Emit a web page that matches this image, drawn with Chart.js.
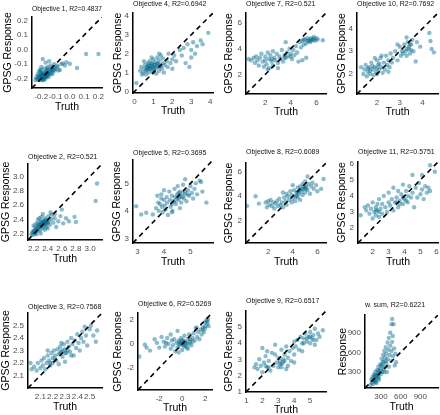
<!DOCTYPE html>
<html>
<head>
<meta charset="utf-8">
<script src="https://cdn.jsdelivr.net/npm/chart.js@4/dist/chart.umd.min.js"></script>
<style>
html, body { margin: 0; padding: 0; background: #fff; overflow: hidden; width: 440px; height: 415px; }
#wrap { position: relative; width: 440px; height: 415px; overflow: hidden; }
canvas { position: absolute; }
</style>
</head>
<body>
<div id="wrap"></div>
<script>
// GPSG response vs truth, one small scatter per objective

// [truth, response] pairs
const obj1Pts = [[-0.24,-0.21],[-0.235,-0.19],[-0.23,-0.2],[-0.225,-0.17],[-0.22,-0.21],[-0.22,-0.18],[-0.215,-0.15],[-0.21,-0.2],[-0.21,-0.19],[-0.205,-0.16],[-0.2,-0.21],[-0.2,-0.18],[-0.2,-0.14],[-0.195,-0.17],[-0.19,-0.2],[-0.19,-0.19],[-0.19,-0.16],[-0.19,-0.065],[-0.185,-0.18],[-0.18,-0.21],[-0.18,-0.17],[-0.18,-0.13],[-0.175,-0.19],[-0.17,-0.16],[-0.17,-0.2],[-0.17,-0.09],[-0.165,-0.18],[-0.16,-0.15],[-0.16,-0.17],[-0.155,-0.12],[-0.15,-0.19],[-0.15,-0.16],[-0.145,-0.08],[-0.14,-0.14],[-0.14,-0.17],[-0.135,-0.11],[-0.13,-0.15],[-0.13,-0.13],[-0.125,-0.17],[-0.12,-0.12],[-0.115,-0.14],[-0.11,-0.1],[-0.105,-0.145],[-0.1,-0.13],[-0.09,-0.11],[-0.085,-0.12],[-0.08,-0.145],[-0.07,-0.14],[-0.06,-0.1],[-0.05,-0.095],[-0.035,-0.11],[-0.025,-0.087],[0.0,-0.098],[0.05,-0.127],[0.114,-0.03],[0.2,-0.03],[-0.2,-0.12],[-0.16,-0.13],[-0.12,-0.16],[-0.21,-0.14],
    [-0.21,-0.185],[-0.2,-0.195],[-0.195,-0.185],[-0.19,-0.175],[-0.185,-0.2],[-0.18,-0.19],[-0.175,-0.175],[-0.17,-0.185],[-0.165,-0.165],[-0.16,-0.185],[-0.155,-0.175],[-0.15,-0.17],[-0.145,-0.16],[-0.2,-0.165],[-0.19,-0.21],[-0.17,-0.15],[-0.16,-0.14],[-0.13,-0.14],[-0.11,-0.13],[-0.215,-0.2]];
const obj4Pts = [[0.1,0.45],[0.3,1.1],[0.35,1.3],[0.4,0.9],[0.45,1.0],[0.5,1.2],[0.55,1.4],[0.6,1.1],[0.6,0.9],[0.65,1.3],[0.7,1.5],[0.7,1.2],[0.75,1.0],[0.8,1.35],[0.8,1.6],[0.85,1.2],[0.9,1.1],[0.9,1.45],[0.95,1.3],[1.0,1.7],[1.0,1.0],[1.05,1.4],[1.1,1.25],[1.1,1.55],[1.15,0.95],[1.2,1.8],[1.2,1.3],[1.25,1.5],[1.3,1.1],[1.3,1.65],[1.35,1.4],[1.4,1.9],[1.45,1.2],[1.5,1.5],[1.5,1.75],[1.55,1.0],[1.6,1.4],[1.7,1.6],[1.75,1.3],[1.8,2.0],[1.9,1.5],[2.0,1.7],[2.0,1.2],[2.1,1.9],[2.2,1.6],[2.4,2.2],[2.5,1.9],[2.6,2.3],[2.7,1.5],[2.8,2.5],[2.9,1.3],[3.0,2.2],[3.0,1.8],[3.1,2.6],[3.2,2.0],[3.3,2.4],[3.5,2.7],[3.6,2.5],[3.9,3.1],[0.5,1.6],[0.9,1.8],[1.3,2.0],
    [0.7,1.3],[0.8,1.2],[0.9,1.35],[1.0,1.25],[1.1,1.4],[1.2,1.45],[1.3,1.3],[0.75,1.4],[0.95,1.5],[1.05,1.15],[1.4,1.35],[0.65,1.15]];
const obj7Pts = [[0.7,3.2],[0.9,3.1],[1.1,3.3],[1.2,2.9],[1.3,3.4],[1.4,3.1],[1.5,2.7],[1.6,3.3],[1.7,3.6],[1.8,3.0],[1.9,2.6],[2.0,3.4],[2.0,3.1],[2.1,2.8],[2.2,3.7],[2.3,3.2],[2.3,2.5],[2.4,3.5],[2.5,3.0],[2.6,3.8],[2.6,2.7],[2.7,3.3],[2.8,3.1],[2.9,3.6],[3.0,2.9],[3.1,3.4],[3.2,3.2],[3.3,3.9],[3.4,3.0],[3.5,3.5],[3.6,4.5],[3.6,3.3],[3.7,3.7],[3.8,3.4],[3.9,4.0],[4.0,3.6],[4.1,3.2],[4.2,3.9],[4.3,3.5],[4.4,4.2],[4.5,3.7],[4.6,3.0],[4.7,4.5],[4.8,4.1],[4.9,4.6],[5.0,4.3],[5.1,4.7],[5.2,4.4],[5.3,4.8],[5.4,4.6],[5.5,4.5],[5.6,4.8],[5.7,4.7],[5.8,4.9],[5.9,4.6],[6.0,4.8],[6.1,4.7],[6.5,4.65],[5.2,3.3],[4.9,3.1],[3.0,2.5],[2.2,2.4],
    [5.0,4.7],[5.3,4.6],[5.5,4.7],[5.6,4.6],[5.8,4.7],[4.0,3.4],[3.5,3.3],[2.5,3.2]];
const obj10Pts = [[1.3,2.3],[1.4,2.0],[1.45,2.2],[1.5,2.4],[1.55,1.9],[1.6,2.1],[1.65,2.3],[1.7,2.0],[1.75,2.5],[1.8,2.2],[1.85,1.95],[1.9,2.3],[1.95,2.1],[2.0,2.6],[2.0,2.0],[2.05,2.4],[2.1,2.2],[2.15,2.7],[2.2,2.3],[2.25,2.05],[2.3,2.5],[2.35,2.2],[2.4,2.8],[2.45,2.4],[2.5,2.6],[2.55,2.3],[2.6,2.9],[2.65,2.5],[2.7,2.7],[2.8,3.0],[2.9,2.6],[3.0,3.2],[3.05,2.8],[3.1,3.0],[3.15,2.9],[3.2,3.3],[3.25,3.0],[3.3,2.8],[3.35,3.4],[3.4,3.1],[3.45,2.9],[3.5,3.3],[3.55,3.5],[3.6,3.0],[3.7,2.55],[3.75,3.4],[3.9,3.2],[4.3,3.8],[4.35,3.45],[4.4,3.1],[4.5,2.95],[2.2,2.8],[1.9,2.7],[2.9,3.3],[3.3,3.6],[2.5,2.1],
    [1.6,2.25],[1.8,2.35],[2.0,2.25],[1.7,2.15],[2.1,2.45],[3.4,3.2],[3.5,3.05],[3.3,3.1],[3.45,3.3]];
const obj2Pts = [[2.17,2.2],[2.18,2.23],[2.19,2.19],[2.2,2.25],[2.21,2.22],[2.22,2.3],[2.22,2.21],[2.23,2.27],[2.24,2.35],[2.25,2.24],[2.25,2.3],[2.26,2.4],[2.27,2.28],[2.28,2.33],[2.29,2.25],[2.3,2.37],[2.3,2.3],[2.31,2.44],[2.32,2.34],[2.33,2.28],[2.34,2.38],[2.35,2.32],[2.36,2.42],[2.37,2.36],[2.38,2.3],[2.39,2.4],[2.4,2.35],[2.41,2.45],[2.42,2.38],[2.43,2.33],[2.45,2.41],[2.46,2.47],[2.48,2.36],[2.5,2.42],[2.52,2.3],[2.55,2.38],[2.58,2.45],[2.6,2.54],[2.62,2.35],[2.66,2.42],[2.7,2.38],[2.78,2.44],[2.8,2.37],[3.08,2.66],[3.1,2.9],[2.2,2.32],[2.24,2.2],[2.28,2.42],[2.33,2.48],[2.36,2.26],[2.44,2.5],[2.26,2.34],[2.3,2.21],[2.4,2.28],[2.5,2.48],
    [2.26,2.27],[2.28,2.3],[2.3,2.34],[2.32,2.31],[2.34,2.35],[2.35,2.37],[2.37,2.33],[2.38,2.36],[2.31,2.38],[2.29,2.32],[2.36,2.39],[2.33,2.36],[2.24,2.26],[2.21,2.24],[2.39,2.37]];
const obj5Pts = [[2.95,4.17],[3.14,3.87],[3.33,3.93],[3.58,3.87],[3.7,4.1],[3.75,4.55],[3.78,4.3],[3.8,4.0],[3.85,4.25],[3.9,4.6],[3.92,4.15],[3.95,3.95],[4.0,4.4],[4.02,4.2],[4.05,4.05],[4.1,4.5],[4.12,4.3],[4.15,3.85],[4.2,4.7],[4.22,4.4],[4.25,4.15],[4.3,4.55],[4.32,4.0],[4.35,4.35],[4.4,4.8],[4.42,4.5],[4.45,4.25],[4.5,4.6],[4.52,4.9],[4.55,4.4],[4.6,4.7],[4.62,4.5],[4.65,4.3],[4.7,4.65],[4.72,4.95],[4.75,4.45],[4.8,4.6],[4.85,4.35],[4.9,4.75],[4.95,4.55],[5.0,4.9],[5.05,4.65],[5.1,4.45],[5.15,4.8],[5.2,5.0],[5.25,4.6],[5.35,5.1],[5.4,5.05],[5.45,4.7],[5.6,4.3],[4.0,4.75],[4.3,3.95],[4.6,4.1],[3.9,4.45],[4.8,5.15],
    [4.5,4.45],[4.6,4.55],[4.7,4.5],[4.4,4.35],[4.8,4.7],[4.3,4.25],[4.9,4.6],[4.55,4.65]];
const obj8Pts = [[0.28,3.22],[0.98,4.0],[1.25,3.4],[1.8,3.5],[1.9,3.1],[2.0,3.6],[2.1,3.3],[2.2,3.7],[2.3,3.2],[2.4,3.5],[2.5,3.0],[2.6,3.4],[2.7,3.6],[2.8,3.2],[2.9,3.8],[3.0,3.3],[3.1,3.5],[3.2,3.1],[3.3,3.9],[3.4,3.6],[3.5,4.2],[3.5,3.3],[3.6,4.0],[3.7,3.7],[3.8,4.4],[3.9,3.5],[3.9,4.1],[4.0,3.8],[4.1,4.5],[4.2,4.0],[4.2,3.6],[4.3,4.3],[4.4,4.7],[4.4,3.9],[4.5,4.2],[4.6,4.8],[4.6,3.7],[4.7,4.4],[4.8,4.1],[4.8,5.0],[4.9,4.6],[5.0,4.3],[5.0,5.2],[5.1,4.8],[5.2,4.5],[5.3,5.0],[5.4,4.2],[5.5,4.8],[5.6,5.1],[5.7,4.6],[5.9,4.9],[6.0,4.4],[6.3,4.6],[6.5,5.4],[4.0,4.9],[3.2,4.3],[5.2,5.6],
    [4.6,4.5],[4.8,4.6],[4.9,4.8],[5.1,4.6],[4.4,4.3],[4.3,4.0],[5.0,4.7]];
const obj11Pts = [[1.25,2.8],[1.6,3.1],[1.7,3.4],[1.8,2.9],[1.9,3.2],[2.0,2.6],[2.0,3.6],[2.1,3.0],[2.2,3.3],[2.2,2.8],[2.3,3.1],[2.4,3.8],[2.4,2.7],[2.5,3.2],[2.6,3.5],[2.6,2.9],[2.7,4.0],[2.8,3.3],[2.9,3.0],[3.0,3.6],[3.0,4.2],[3.1,3.4],[3.2,3.8],[3.3,4.5],[3.3,3.1],[3.4,3.6],[3.5,3.9],[3.6,3.3],[3.6,4.3],[3.7,3.7],[3.8,4.1],[3.9,3.5],[3.9,4.7],[4.0,3.8],[4.1,4.3],[4.2,3.6],[4.2,4.0],[4.3,4.6],[4.4,3.9],[4.5,5.3],[4.5,4.2],[4.6,3.3],[4.7,4.5],[4.8,3.9],[4.9,4.8],[5.0,4.1],[5.1,5.3],[5.1,4.4],[5.2,3.8],[5.3,4.6],[5.4,4.2],[5.5,4.5],[5.6,4.3],[5.6,5.9],[5.9,5.5],[1.5,3.3],[2.3,3.5],
    [3.5,3.6],[3.7,3.5],[3.9,3.9],[4.1,3.7],[2.2,3.1],[2.4,3.0]];
const obj3Pts = [[2.02,2.2],[2.03,2.15],[2.05,2.17],[2.07,2.14],[2.08,2.2],[2.1,2.16],[2.11,2.22],[2.12,2.18],[2.13,2.24],[2.14,2.15],[2.15,2.2],[2.16,2.26],[2.17,2.22],[2.18,2.18],[2.19,2.28],[2.2,2.24],[2.2,2.2],[2.21,2.3],[2.22,2.26],[2.23,2.22],[2.24,2.31],[2.25,2.27],[2.25,2.19],[2.26,2.33],[2.27,2.29],[2.28,2.25],[2.29,2.35],[2.3,2.31],[2.3,2.21],[2.31,2.28],[2.32,2.37],[2.33,2.33],[2.34,2.29],[2.35,2.4],[2.36,2.35],[2.37,2.26],[2.38,2.38],[2.39,2.32],[2.4,2.43],[2.41,2.36],[2.42,2.3],[2.43,2.4],[2.44,2.45],[2.45,2.37],[2.46,2.49],[2.47,2.42],[2.48,2.34],[2.5,2.47],[2.51,2.5],[2.53,2.42],[2.56,2.46],[2.55,2.37],[2.16,2.3],[2.27,2.36],[2.35,2.26],
    [2.3,2.28],[2.32,2.3],[2.28,2.3],[2.26,2.28],[2.22,2.23],[2.18,2.2]];
const obj6Pts = [[-3.74,-1.05],[-3.25,-0.05],[-3.1,-0.3],[-2.8,-0.55],[-2.4,0.4],[-2.2,0.1],[-2.0,-0.3],[-1.8,0.6],[-1.6,0.2],[-1.5,-0.2],[-1.3,0.5],[-1.2,0.0],[-1.0,0.8],[-1.0,-0.4],[-0.9,0.3],[-0.8,-0.1],[-0.7,0.4],[-0.6,-0.6],[-0.5,0.1],[-0.4,1.1],[-0.4,-0.3],[-0.3,0.3],[-0.2,-0.1],[-0.1,0.5],[0.0,0.0],[0.0,-0.5],[0.1,0.3],[0.2,-0.2],[0.2,0.7],[0.3,0.1],[0.4,-0.3],[0.5,0.4],[0.6,0.0],[0.6,0.8],[0.7,0.2],[0.8,-0.1],[0.9,0.5],[1.0,0.9],[1.1,0.3],[1.2,1.3],[1.25,1.4],[1.3,0.6],[1.4,1.0],[1.5,0.4],[1.6,1.2],[1.7,0.8],[1.8,1.4],[1.9,1.0],[2.0,1.8],[2.0,1.5],[2.1,2.0],[2.2,1.7],[2.25,2.1],[2.3,1.5],[-0.3,-0.7],[0.5,-0.4],[-1.4,0.1],
    [-0.3,0.0],[-0.1,0.1],[0.1,-0.1],[0.2,0.2],[0.4,0.1],[0.0,0.3],[-0.2,0.2],[0.3,-0.1],[0.7,0.4],[0.9,0.2],[1.8,1.2],[2.0,1.3],[2.2,1.9]];
const obj9Pts = [[1.5,2.5],[1.6,2.7],[1.7,2.4],[1.8,3.0],[1.9,2.6],[2.0,3.7],[2.0,2.2],[2.1,2.8],[2.2,3.2],[2.3,2.5],[2.3,3.5],[2.4,2.9],[2.5,2.3],[2.6,3.4],[2.7,2.6],[2.8,3.9],[2.9,2.8],[3.0,3.1],[3.0,2.5],[3.1,2.9],[3.2,3.6],[3.2,2.7],[3.3,3.0],[3.4,3.3],[3.5,2.4],[3.5,3.8],[3.6,3.1],[3.7,3.5],[3.8,2.9],[3.9,3.7],[4.0,4.1],[4.0,3.3],[4.1,3.8],[4.2,4.2],[4.3,3.6],[4.4,4.4],[4.5,4.0],[4.5,3.5],[4.6,4.3],[4.7,4.6],[4.8,4.1],[4.9,4.4],[5.0,4.0],[5.0,4.7],[5.1,4.3],[5.2,4.5],[5.3,4.9],[5.3,3.9],[5.4,4.2],[5.5,4.6],[5.6,4.4],[5.8,4.8],[4.0,2.8],[2.8,3.3],[3.6,2.6],
    [3.1,2.7],[3.3,2.8],[3.4,2.9],[3.2,2.5],[4.6,4.0],[4.8,4.3],[5.0,4.4],[5.2,4.2],[2.2,2.6],[2.4,2.5]];
const wsumPts = [[140,100],[150,180],[160,140],[170,220],[180,120],[190,260],[200,170],[210,300],[220,150],[230,240],[240,330],[250,200],[260,280],[260,380],[270,230],[280,320],[290,420],[300,270],[300,350],[310,500],[320,300],[320,400],[330,560],[340,340],[340,460],[350,620],[360,380],[360,520],[370,680],[380,430],[380,580],[390,300],[400,750],[400,500],[410,640],[420,820],[420,380],[430,560],[440,700],[440,900],[450,470],[460,620],[460,1030],[470,760],[480,540],[480,850],[490,1030],[500,660],[510,400],[520,580],[530,450],[470,1110],[230,130],[270,180],[200,230],[350,300],
    [200,200],[220,260],[240,220],[260,320],[210,160],[180,180],[250,260],[300,400],[330,450],[380,470]];

// panel titles, in grid order (row by row)
const titles = ['Objective 1, R2=0.4837', 'Objective 4, R2=0.6942', 'Objective 7, R2=0.521', 'Objective 10, R2=0.7692',
                'Objective 2, R2=0.521', 'Objective 5, R2=0.3695', 'Objective 8, R2=0.6089', 'Objective 11, R2=0.5751',
                'Objective 3, R2=0.7568', 'Objective 6, R2=0.5269', 'Objective 9, R2=0.6517', 'w. sum, R2=0.6221'];
const yTitles = ['GPSG Response', 'GPSG Response', 'GPSG Response', 'GPSG Response',
                 'GPSG Response', 'GPSG Response', 'GPSG Response', 'GPSG Response',
                 'GPSG Response', 'GPSG Response', 'GPSG Response', 'Response'];
const xTitle = 'Truth';

// tick values (same on both axes of a panel)
const tickSets = [[-0.2, -0.1, 0, 0.1, 0.2], [0, 1, 2, 3, 4], [2, 4, 6], [2, 3, 4],
                  [2.2, 2.4, 2.6, 2.8, 3.0], [3, 4, 5], [2, 4, 6], [2, 3, 4, 5, 6],
                  [2.1, 2.2, 2.3, 2.4, 2.5], [-2, 0, 2], [1, 2, 3, 4, 5], [300, 600, 900]];
const tickDecimals = [1, 0, 0, 0, 1, 0, 0, 0, 1, 0, 0, 0];
// axis limits (shared by x and y)
const limits = [[-0.265, 0.225], [-0.08, 4.15], [0.5, 6.75], [1.12, 4.68],
                [2.12, 3.17], [2.83, 5.85], [0.2, 6.7], [1.08, 6.1],
                [2.0, 2.6], [-3.85, 2.6], [0.97, 6.0], [55, 1170]];
const pointSets = [obj1Pts, obj4Pts, obj7Pts, obj10Pts, obj2Pts, obj5Pts, obj8Pts, obj11Pts, obj3Pts, obj6Pts, obj9Pts, wsumPts];

// layout: plot box L,T,R,B then title y, y-title x, x-title y (page px)
const boxes = [
    [32, 17, 102, 88, 9, 8, 107], [133, 13, 213, 93, 4, 118, 111], [246, 13, 326, 94, 4, 229, 112], [357, 13, 438, 94, 4, 342, 112],
    [28, 164, 102, 240, 157, 6, 259], [133, 160, 213, 243, 153, 117, 262], [246, 163, 326, 243, 152, 229, 262], [358, 162, 438, 243, 152, 342, 262],
    [28, 313, 102, 388, 307, 6, 407], [138, 313, 212, 390, 304, 118, 408], [246, 311, 326, 392, 301, 229, 410], [365, 315, 438, 388, 305, 343, 407]
];

const FONT = "'Liberation Sans', Arial, Helvetica, sans-serif";
const TICK_COLOR = '#4d4d4d';
const POINT_COLOR = 'rgba(0,104,139,0.45)';
Chart.defaults.font.family = FONT;

const wrap = document.getElementById('wrap');

function makePanel(i) {
    const [L, T, R, B, titleY, yTitleX, truthY] = boxes[i];
    const axisFont = 10.5, halfAxis = axisFont * 1.2 / 2;
    const titleFont = 7, halfTitle = titleFont * 1.2 / 2;
    const left = Math.round(yTitleX - halfAxis);
    const top = Math.floor(titleY - halfTitle - 1);
    const padRight = 12;
    const width = R + padRight - left;
    const height = Math.ceil(truthY + halfAxis + 2) - top;
    const yw = L - left;
    const xh = truthY + halfAxis - B;

    const cv = document.createElement('canvas');
    cv.width = width; cv.height = height;
    cv.style.left = left + 'px'; cv.style.top = top + 'px';
    cv.style.width = width + 'px'; cv.style.height = height + 'px';
    wrap.appendChild(cv);

    const [lo, hi] = limits[i];
    const ticks = tickSets[i];
    const dec = tickDecimals[i];
    const tickOpts = pad => ({
        color: TICK_COLOR, font: { size: 8 }, padding: pad,
        autoSkip: false, maxRotation: 0, minRotation: 0,
        callback: v => Number(v).toFixed(dec)
    });
    const axis = (title, pad) => ({
        type: 'linear', min: lo, max: hi,
        grid: { display: false, drawTicks: false, tickLength: 0 },
        border: { display: true, color: '#000', width: 1.5 },
        ticks: tickOpts(pad),
        afterBuildTicks: s => { s.ticks = ticks.map(v => ({ value: v })); },
        title: { display: true, text: title, color: '#000', padding: 0, font: { size: axisFont } }
    });

    const xAxis = axis(xTitle, 4);
    xAxis.afterFit = s => { s.height = xh; };
    const yAxis = axis(yTitles[i], 4);
    yAxis.afterFit = s => { s.width = yw; };

    new Chart(cv, {
        type: 'scatter',
        data: {
            datasets: [
                {   // y = x reference
                    data: [{ x: lo, y: lo }, { x: hi, y: hi }],
                    showLine: true, borderColor: '#000', borderWidth: 1.6, borderDash: [5, 4],
                    pointRadius: 0, fill: false
                },
                {
                    data: pointSets[i].map(p => ({ x: p[0], y: p[1] })),
                    backgroundColor: POINT_COLOR, borderWidth: 0, pointRadius: 2.2
                }
            ]
        },
        options: {
            responsive: false, animation: false, events: [],
            layout: { padding: { left: 0, top: 0, right: padRight, bottom: height - (truthY + halfAxis - top) } },
            plugins: {
                legend: { display: false },
                tooltip: { enabled: false },
                title: {
                    display: true, text: titles[i], align: 'start', fullSize: false,
                    color: '#111', font: { size: titleFont, weight: 'normal' },
                    padding: { top: titleY - halfTitle - top, bottom: T - titleY - halfTitle }
                }
            },
            scales: { x: xAxis, y: yAxis }
        }
    });
}

window.addEventListener('DOMContentLoaded', () => {
    titles.forEach((t, i) => makePanel(i));
});
</script>
</body>
</html>
